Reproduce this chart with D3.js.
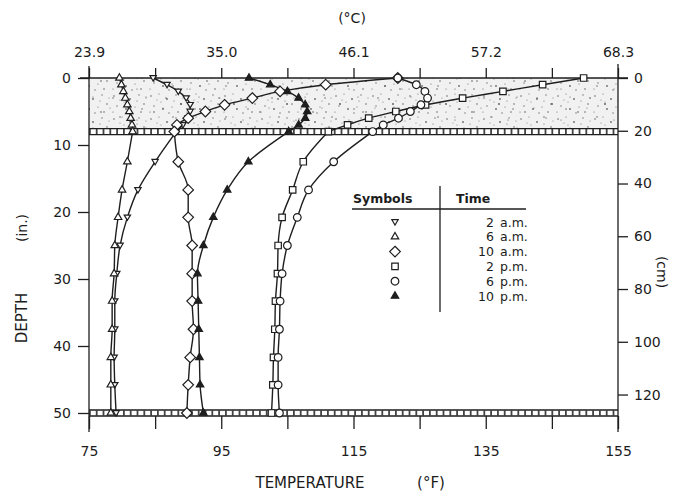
<!DOCTYPE html>
<html><head><meta charset="utf-8">
<script src="https://cdn.jsdelivr.net/npm/d3@7"></script>
<style>
html,body{margin:0;padding:0;background:#fff;}
svg{display:block;}
text{font-family:"DejaVu Sans",sans-serif;fill:#1c1c1c;}
</style></head><body>
<svg id="chart" width="676" height="492"></svg>
<script>
// Temperature profiles through a pavement layer (0-8 in.) and the soil below it
const timeLabels = ["2", "6", "10", "2", "6", "10"];
const timeSuffix = ["a.m.", "a.m.", "a.m.", "p.m.", "p.m.", "p.m."];

const depthPave = [0, 1, 2, 3, 4, 5, 6, 7, 8];                          // in.
const depthSoil = [8, 12.5, 16.7, 20.8, 25, 29.2, 33.3, 37.5, 41.7, 45.8, 50]; // in.

// temperatures, °F
const pave2am  = [84.7, 86.8, 88.5, 89.7, 90.3, 90.3, 90.0, 89.2, 88.2];
const soil2am  = [88.2, 85.0, 82.4, 80.8, 79.7, 79.2, 78.9, 78.9, 78.8, 78.9, 79.1];
const pave6am  = [79.6, 79.9, 80.2, 80.5, 80.8, 81.1, 81.3, 81.5, 81.6];
const soil6am  = [81.6, 80.8, 80.0, 79.4, 78.9, 78.8, 78.5, 78.5, 78.3, 78.3, 78.3];
const pave10am = [121.7, 110.8, 103.9, 99.7, 95.5, 92.6, 90.0, 88.3, 87.9];
const soil10am = [87.9, 88.5, 90.0, 90.0, 90.6, 90.6, 90.6, 90.8, 90.3, 90.0, 89.8];
const pave2pm  = [149.8, 143.6, 137.6, 131.5, 125.9, 121.4, 117.3, 114.1, 111.2];
const soil2pm  = [111.2, 107.4, 105.8, 104.2, 103.6, 103.5, 103.2, 103.1, 102.9, 102.8, 102.6];
const pave6pm  = [121.7, 124.5, 125.8, 126.2, 125.2, 123.6, 121.8, 119.5, 117.9];
const soil6pm  = [117.9, 112.0, 108.2, 106.5, 105.0, 104.2, 103.9, 103.8, 103.6, 103.6, 103.8];
const pave10pm = [99.2, 102.4, 105.0, 106.7, 107.7, 108.0, 107.7, 106.7, 105.2];
const soil10pm = [105.2, 99.1, 95.9, 93.8, 92.3, 91.4, 91.5, 91.6, 91.7, 91.8, 92.3];

const fTicks = [75, 85, 95, 105, 115, 125, 135, 145, 155];
const fLabelTicks = [75, 95, 115, 135, 155];
const cLabels = ["23.9", "35.0", "46.1", "57.2", "68.3"];
const inTicks = [0, 10, 20, 30, 40, 50];
const cmTicks = [0, 20, 40, 60, 80, 100, 120];
const layerDepth = 8;
const bottomDepth = 50;

const svg = d3.select("#chart");
const x = d3.scaleLinear().domain([75, 155]).range([89, 618]);
const y = d3.scaleLinear().domain([0, 50]).range([78, 413]);
const yCm = d3.scaleLinear().domain([0, 50 * 2.54]).range([78, 413]);
const ink = "#1e1e1e";

// ---- stipple pattern for the pavement layer
const defs = svg.append("defs");
const pat = defs.append("pattern").attr("id", "stip").attr("patternUnits", "userSpaceOnUse")
  .attr("width", 37).attr("height", 23);
pat.append("rect").attr("width", 37).attr("height", 23).attr("fill", "#f1f1f1");
const dots = [[3,4,0.8],[11,2,0.6],[19,7,0.9],[28,3,0.7],[33,12,0.8],[6,14,0.7],[15,17,0.9],
  [24,15,0.6],[30,20,0.8],[2,20,0.6],[13,10,0.5],[21,21,0.7],[35,6,0.5],[9,8,0.5],[26,9,0.6]];
dots.forEach(d => pat.append("circle").attr("cx", d[0]).attr("cy", d[1]).attr("r", d[2]).attr("fill", "#6a6a6a"));
const pat2 = defs.append("pattern").attr("id", "stip2").attr("patternUnits", "userSpaceOnUse")
  .attr("width", 53).attr("height", 31);
[[7,5,0.7],[22,11,0.9],[40,4,0.6],[48,19,0.8],[14,24,0.7],[31,27,0.6],[4,15,0.5],[36,16,0.7]]
  .forEach(d => pat2.append("circle").attr("cx", d[0]).attr("cy", d[1]).attr("r", d[2]).attr("fill", "#555"));

svg.append("rect").attr("x", x(75)).attr("y", y(0)).attr("width", x(155) - x(75))
  .attr("height", y(layerDepth) - 3 - y(0)).attr("fill", "url(#stip)");
svg.append("rect").attr("x", x(75)).attr("y", y(0)).attr("width", x(155) - x(75))
  .attr("height", y(layerDepth) - 3 - y(0)).attr("fill", "url(#stip2)");

// ---- hatched boundary bands
function band(depth) {
  const yc = y(depth);
  const g = svg.append("g");
  g.append("rect").attr("x", x(75)).attr("y", yc - 3).attr("width", x(155) - x(75)).attr("height", 6).attr("fill", "#fff");
  g.append("line").attr("x1", x(75)).attr("x2", x(155)).attr("y1", yc).attr("y2", yc)
    .attr("stroke", "#444").attr("stroke-width", 5).attr("stroke-dasharray", "1.8,5");
  [yc - 3, yc + 3].forEach(v => g.append("line").attr("x1", x(75)).attr("x2", x(155)).attr("y1", v).attr("y2", v)
    .attr("stroke", ink).attr("stroke-width", 1.3));
}
band(layerDepth);
band(bottomDepth);

// ---- axes
const axisG = svg.append("g").attr("stroke", ink).attr("stroke-width", 1.3);
axisG.append("line").attr("x1", 80).attr("x2", 628).attr("y1", y(0)).attr("y2", y(0));
axisG.append("line").attr("x1", x(75)).attr("x2", x(75)).attr("y1", 66).attr("y2", 432);
axisG.append("line").attr("x1", x(155)).attr("x2", x(155)).attr("y1", 64).attr("y2", 432);

const topAxis = d3.axisTop(x).tickValues(fTicks).tickSize(10).tickPadding(11)
  .tickFormat(d => { const i = fLabelTicks.indexOf(d); return i >= 0 ? cLabels[i] : ""; });
const bottomAxis = d3.axisBottom(x).tickValues(fTicks).tickSize(13).tickPadding(17)
  .tickFormat(d => fLabelTicks.includes(d) ? String(d) : "");
const leftAxis = d3.axisLeft(y).tickValues(inTicks).tickSize(11).tickPadding(7);
const rightAxis = d3.axisRight(yCm).tickValues(cmTicks).tickSize(10).tickPadding(6);

function styleAxis(g) {
  g.select(".domain").remove();
  g.selectAll(".tick line").attr("stroke", ink).attr("stroke-width", 1.3);
  g.selectAll(".tick text").attr("font-family", "DejaVu Sans").attr("font-size", 14).attr("fill", ink);
}
svg.append("g").attr("transform", `translate(0,${y(0)})`).call(topAxis).call(styleAxis);
svg.append("g").attr("transform", `translate(0,${y(bottomDepth) + 3})`).call(bottomAxis).call(styleAxis);
svg.append("g").attr("transform", `translate(${x(75)},0)`).call(leftAxis).call(styleAxis);
svg.append("g").attr("transform", `translate(${x(155)},0)`).call(rightAxis).call(styleAxis);

// ---- axis titles
svg.append("text").attr("x", 352).attr("y", 23).attr("text-anchor", "middle").attr("font-size", 14).text("(°C)");
svg.append("text").attr("x", 310).attr("y", 488).attr("text-anchor", "middle").attr("font-size", 15).text("TEMPERATURE");
svg.append("text").attr("x", 431).attr("y", 488).attr("text-anchor", "middle").attr("font-size", 15).text("(°F)");
svg.append("text").attr("transform", "translate(27,318) rotate(-90)").attr("text-anchor", "middle").attr("font-size", 15).text("DEPTH");
svg.append("text").attr("transform", "translate(27,228) rotate(-90)").attr("text-anchor", "middle").attr("font-size", 14).text("(in.)");
svg.append("text").attr("transform", "translate(657,272) rotate(90)").attr("text-anchor", "middle").attr("font-size", 14).text("(cm)");

// ---- symbols
const diamond = { draw(ctx, size) { const r = Math.sqrt(size) / 1.25; ctx.moveTo(0, -r); ctx.lineTo(r, 0); ctx.lineTo(0, r); ctx.lineTo(-r, 0); ctx.closePath(); } };
const triDown = { draw(ctx, size) { const s = Math.sqrt(size); ctx.moveTo(-s * 0.62, -s * 0.45); ctx.lineTo(s * 0.62, -s * 0.45); ctx.lineTo(0, s * 0.6); ctx.closePath(); } };
const symbolSpecs = [
  { type: triDown, size: 26, fill: "#fff" },
  { type: d3.symbolTriangle, size: 24, fill: "#fff" },
  { type: diamond, size: 44, fill: "#fff" },
  { type: d3.symbolSquare, size: 42, fill: "#fff" },
  { type: d3.symbolCircle, size: 46, fill: "#fff" },
  { type: d3.symbolTriangle, size: 24, fill: ink }
];

const series = [
  [pave2am, soil2am], [pave6am, soil6am], [pave10am, soil10am],
  [pave2pm, soil2pm], [pave6pm, soil6pm], [pave10pm, soil10pm]
];

const line = d3.line().x(d => x(d[1])).y(d => y(d[0])).curve(d3.curveMonotoneY);
const plot = svg.append("g");
series.forEach((s, i) => {
  const pave = depthPave.map((d, k) => [d, s[0][k]]);
  const soil = depthSoil.map((d, k) => [d, s[1][k]]);
  [pave, soil].forEach(pts => plot.append("path").attr("d", line(pts)).attr("fill", "none")
    .attr("stroke", ink).attr("stroke-width", 1.4));
});
series.forEach((s, i) => {
  const spec = symbolSpecs[i];
  const sym = d3.symbol().type(spec.type).size(spec.size);
  const pts = depthPave.map((d, k) => [d, s[0][k]]).concat(depthSoil.slice(1).map((d, k) => [d, s[1][k + 1]]));
  plot.selectAll(null).data(pts).enter().append("path")
    .attr("transform", d => `translate(${x(d[1])},${y(d[0])})`)
    .attr("d", sym).attr("fill", spec.fill).attr("stroke", ink).attr("stroke-width", 1.2);
});

// ---- legend table
const lg = svg.append("g").attr("font-size", 12.5);
lg.append("text").attr("x", 353).attr("y", 203).attr("font-weight", "bold").text("Symbols");
lg.append("text").attr("x", 456).attr("y", 203).attr("font-weight", "bold").text("Time");
lg.append("line").attr("x1", 352).attr("x2", 526).attr("y1", 209).attr("y2", 209).attr("stroke", ink).attr("stroke-width", 1.4);
lg.append("line").attr("x1", 440).attr("x2", 440).attr("y1", 186).attr("y2", 312).attr("stroke", ink).attr("stroke-width", 1.3);
timeLabels.forEach((t, i) => {
  const yy = 222 + i * 14.8;
  const spec = symbolSpecs[i];
  lg.append("path").attr("transform", `translate(395,${yy})`)
    .attr("d", d3.symbol().type(spec.type).size(spec.size)).attr("fill", spec.fill).attr("stroke", ink).attr("stroke-width", 1.2);
  lg.append("text").attr("x", 494).attr("y", yy + 4.5).attr("text-anchor", "end").text(t);
  lg.append("text").attr("x", 500).attr("y", yy + 4.5).text(timeSuffix[i]);
});
</script>
</body></html>
